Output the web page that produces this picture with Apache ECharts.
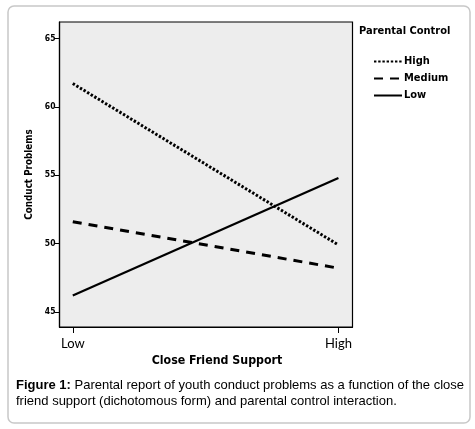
<!DOCTYPE html>
<html>
<head>
<meta charset="utf-8">
<script src="https://cdn.jsdelivr.net/npm/echarts@6/dist/echarts.min.js"></script>
<style>
  html, body { margin:0; padding:0; background:#fff; }
  #chart { width:475px; height:429px; }
</style>
</head>
<body>
<div id="chart"></div>
<script>
// x positions: 0 = Low, 1 = High close friend support
const xValues = [0, 1]
const xLabels = ['Low', 'High']
const yTicks = [45, 50, 55, 60, 65]

const highControl = [61.7, 49.9]
const mediumControl = [51.6, 48.2]
const lowControl = [46.2, 54.8]

const seriesNames = ['High', 'Medium', 'Low']
const seriesValues = [highControl, mediumControl, lowControl]

const condensed = '"Liberation Sans Narrow", "DejaVu Sans Condensed", sans-serif'
const lineStyles = [
  { width: 3, type: [2.4, 1.8] },
  { width: 3, type: [9, 7] },
  { width: 2.2, type: 'solid' },
]

const chart = echarts.init(document.getElementById('chart'))

chart.setOption({
  animation: false,
  backgroundColor: '#fff',
  title: {
    text: 'Parental Control', left: 359, top: 26, padding: 0,
    textStyle: { fontFamily: condensed, fontWeight: 'bold', fontSize: 11, color: '#000' },
  },
  legend: {
    orient: 'vertical', left: 368, top: 51, itemWidth: 28, itemHeight: 10, itemGap: 6,
    data: seriesNames,
    itemStyle: { opacity: 0 },
    textStyle: { fontFamily: condensed, fontWeight: 'bold', fontSize: 11, color: '#000', padding: [0, 0, 0, -3] },
  },
  grid: {
    left: 59.5, top: 22, right: 122.5, bottom: 102,
    show: true, backgroundColor: '#ededed', borderColor: '#000', borderWidth: 1.2,
  },
  xAxis: {
    type: 'value', min: -0.05, max: 1.053,
    name: 'Close Friend Support', nameLocation: 'middle', nameGap: 20,
    nameTextStyle: { fontFamily: condensed, fontWeight: 'bold', fontSize: 12.3, color: '#000', padding: [0, 0, 0, 22] },
    axisLine: { onZero: false, lineStyle: { color: '#000', width: 1.2 } },
    axisTick: { show: true, length: 6, customValues: xValues, lineStyle: { color: '#000' } },
    axisLabel: {
      customValues: xValues, margin: 10, fontFamily: 'Lato, sans-serif', fontSize: 13, color: '#000',
      formatter: v => xLabels[xValues.indexOf(v)] ?? '',
    },
    splitLine: { show: false },
  },
  yAxis: {
    type: 'value', min: 43.9, max: 66.2,
    name: 'Conduct Problems', nameLocation: 'middle', nameGap: 24,
    nameTextStyle: { fontFamily: condensed, fontWeight: 'bold', fontSize: 9.8, color: '#000' },
    axisLine: { show: true, onZero: false, lineStyle: { color: '#000', width: 1.2 } },
    axisTick: { show: true, length: 5, customValues: yTicks, lineStyle: { color: '#000' } },
    axisLabel: { customValues: yTicks, margin: 4, fontFamily: condensed, fontWeight: 'bold', fontSize: 8.5, color: '#000' },
    splitLine: { show: false },
  },
  series: seriesNames.map((name, i) => ({
    name, type: 'line', symbol: 'none',
    data: xValues.map((x, j) => [x, seriesValues[i][j]]),
    lineStyle: { color: '#000', ...lineStyles[i] },
    itemStyle: { color: '#000' },
  })),
  graphic: [
    { type: 'rect', shape: { x: 8, y: 6, width: 462, height: 417, r: 6 }, z: -10,
      style: { fill: 'none', stroke: '#c8c8c8', lineWidth: 1.5 } },
    { type: 'text', left: 16, top: 379,
      style: { rich: { b: { fontWeight: 'bold', fontFamily: 'Liberation Sans, Arial', fontSize: 13, fill: '#000' },
                       n: { fontFamily: 'Liberation Sans, Arial', fontSize: 13, fill: '#000' } },
               text: '{b|Figure 1:}{n| Parental report of youth conduct problems as a function of the close}' } },
    { type: 'text', left: 16, top: 395,
      style: { fontFamily: 'Liberation Sans, Arial', fontSize: 13, fill: '#000',
               text: 'friend support (dichotomous form) and parental control interaction.' } },
  ],
})
</script>
</body>
</html>
